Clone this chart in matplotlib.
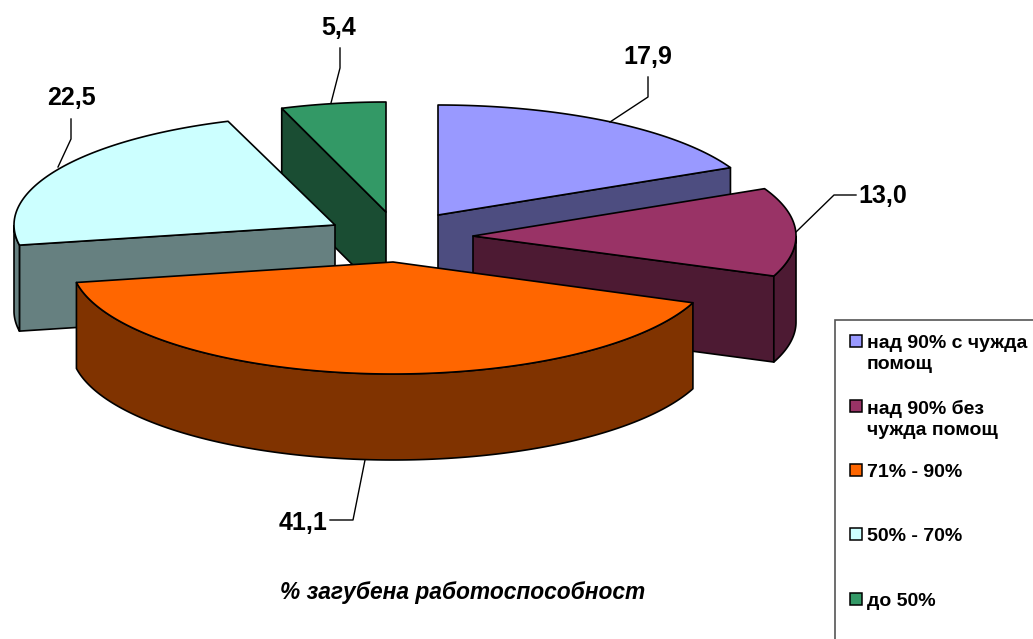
"""
Exploded 3D style pie of lost work capacity, with legend box
"""

import numpy as np
import matplotlib
matplotlib.use("Agg")
import matplotlib.pyplot as plt
from matplotlib.patches import Polygon, Rectangle

# data
categories = ["над 90% с чужда\nпомощ", "над 90% без\nчужда помощ", "71% - 90%", "50% - 70%", "до 50%"]
values = [17.9, 13.0, 41.1, 22.5, 5.4]
value_labels = ["17,9", "13,0", "41,1", "22,5", "5,4"]
chart_title = "% загубена работоспособност"

# styles
top_colors = ["#9999FF", "#993366", "#FF6600", "#CCFFFF", "#339966"]
side_colors = ["#4D4D80", "#4D1A33", "#803300", "#668080", "#1A4D33"]

# apex of each exploded slice and its ellipse radii, in pixels
apex_x = [438, 473, 393, 335, 386]
apex_y = [215, 236, 262, 225, 212]
radius_x = [324, 323, 322, 321, 313]
radius_y = [110, 110, 112, 110, 110]
DEPTH = 86
DRAW_ORDER = [4, 3, 0, 1, 2]

plt.rcParams["font.family"] = ["Liberation Sans", "DejaVu Sans"]
plt.rcParams["font.weight"] = "bold"

fig = plt.figure(figsize=(10.33, 6.39), dpi=100)
ax = fig.add_axes([0, 0, 1, 1])
ax.set_xlim(0, 1033)
ax.set_ylim(639, 0)
ax.axis("off")


def rim(i, t):
    """point on the rim of slice i, t in radians clockwise from the top"""
    return apex_x[i] + radius_x[i] * np.sin(t), apex_y[i] - radius_y[i] * np.cos(t)


def draw_poly(xs, ys, color, z):
    ax.add_patch(Polygon(np.column_stack([xs, ys]), closed=True, facecolor=color,
                         edgecolor="black", linewidth=1.2, joinstyle="round", zorder=z))


# slice angles come straight from the values
fractions = np.array(values) / np.sum(values)
ends = np.cumsum(fractions) * 2 * np.pi
starts = ends - fractions * 2 * np.pi

for z, i in enumerate(DRAW_ORDER):
    base = 10 * (z + 1)
    t = np.linspace(starts[i], ends[i], 200)
    x, y = rim(i, t)
    ax0, ay0 = apex_x[i], apex_y[i]

    # flat cut faces, whichever one looks toward the viewer
    if i in (0, 1):
        draw_poly([ax0, x[-1], x[-1], ax0], [ay0, y[-1], y[-1] + DEPTH, ay0 + DEPTH], side_colors[i], base)
    if i in (3, 4):
        draw_poly([ax0, x[0], x[0], ax0], [ay0, y[0], y[0] + DEPTH, ay0 + DEPTH], side_colors[i], base)

    # outer wall, only the front half of the rim shows
    front = np.cos(t) < 0
    if front.any():
        xf, yf = x[front], y[front]
        draw_poly(np.r_[xf, xf[::-1]], np.r_[yf, yf[::-1] + DEPTH], side_colors[i], base + 1)

    # top face
    draw_poly(np.r_[ax0, x], np.r_[ay0, y], top_colors[i], base + 2)

# leader lines
leader_x = [[610, 648, 648], [796, 834, 856], [365, 353, 330], [58, 71, 71], [331, 340, 340]]
leader_y = [[122, 97, 77], [232, 195, 195], [460, 520, 520], [167, 139, 119], [103, 68, 48]]
for lx, ly in zip(leader_x, leader_y):
    ax.plot(lx, ly, color="black", linewidth=1.0, zorder=100)

label_x = [648, 883, 303, 71, 339]
label_y = [57, 196, 523, 98, 28]
for text, lx, ly in zip(value_labels, label_x, label_y):
    ax.text(lx, ly, text, ha="center", va="center", fontsize=18, zorder=101)

ax.text(463, 592, chart_title, ha="center", va="center", fontsize=16.4, style="italic", zorder=101)

# legend box runs off the picture on the right and bottom
ax.add_patch(Rectangle((834.5, 319.5), 220, 340, facecolor="white", edgecolor="#555555",
                       linewidth=1.2, zorder=110))
legend_y = [341, 406, 470, 534, 599]
for name, color, ly in zip(categories, top_colors, legend_y):
    ax.add_patch(Rectangle((850, ly - 6), 12, 12, facecolor=color, edgecolor="black",
                           linewidth=1.1, zorder=111))
    ax.text(867, ly - 6, name, ha="left", va="top", fontsize=14, linespacing=1.33, zorder=111)

fig.savefig("out.png", dpi=100)
